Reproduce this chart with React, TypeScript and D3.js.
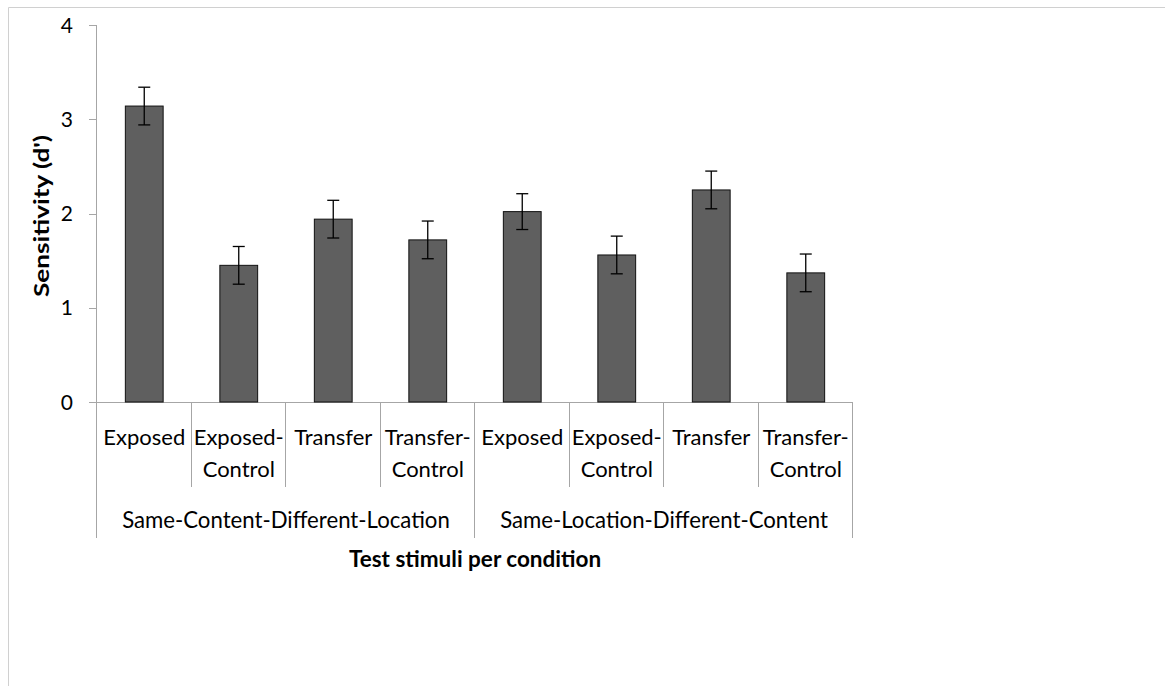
import React from "react";
import * as d3 from "d3";

const categories = ["Exposed", "Exposed-Control", "Transfer", "Transfer-Control", "Exposed", "Exposed-Control", "Transfer", "Transfer-Control"];
const labelLines = [["Exposed"], ["Exposed-", "Control"], ["Transfer"], ["Transfer-", "Control"], ["Exposed"], ["Exposed-", "Control"], ["Transfer"], ["Transfer-", "Control"]];
const groups = ["Same-Content-Different-Location", "Same-Location-Different-Content"];
const values = [3.14, 1.45, 1.94, 1.72, 2.02, 1.56, 2.25, 1.37];
const errors = [0.2, 0.2, 0.2, 0.2, 0.19, 0.2, 0.2, 0.2];
const yTicks = [0, 1, 2, 3, 4];
const yTitle = "Sensitivity (d')";
const xTitle = "Test stimuli per condition";

const W = 1165;
const H = 686;
const FONT = "Lato, 'Liberation Sans', sans-serif";

export default function App() {
  const x0 = 97;
  const x1 = 853;
  const yBase = 402;
  const yTop = 25;
  const idx = categories.map((_, i) => String(i));
  const cell = d3.scaleBand<string>().domain(idx).range([x0, x1]).padding(0);
  const bar = d3.scaleBand<string>().domain(idx).range([x0, x1]).paddingInner(0.6).paddingOuter(0.3);
  const y = d3.scaleLinear().domain([0, 4]).range([yBase, yTop]);
  const axisColor = "#a6a6a6";
  const groupSize = categories.length / groups.length;

  return (
    <svg width={W} height={H} style={{ position: "absolute", left: 0, top: 0, background: "#fff" }}>
      {/* frame */}
      <line x1={8.5} y1={7.5} x2={W} y2={7.5} stroke="#d0d0d0" strokeWidth={1} />
      <line x1={8.5} y1={7.5} x2={8.5} y2={H} stroke="#d0d0d0" strokeWidth={1} />

      {/* y axis */}
      <line x1={x0 - 0.5} y1={y(4)} x2={x0 - 0.5} y2={yBase} stroke={axisColor} />
      {yTicks.map((t) => (
        <g key={t}>
          <line x1={89} x2={x0} y1={Math.round(y(t)) + 0.5} y2={Math.round(y(t)) + 0.5} stroke={axisColor} />
          <text x={73} y={y(t)} dy="0.36em" textAnchor="end" fontFamily={FONT} fontSize={21} fill="#000">
            {t}
          </text>
        </g>
      ))}

      {/* x axis baseline */}
      <line x1={89} x2={x1} y1={yBase + 0.5} y2={yBase + 0.5} stroke={axisColor} />

      {/* category separators */}
      {idx.map((d, i) => {
        const xs = cell(d)!;
        const isGroupEdge = i % groupSize === 0;
        return (
          <line key={"s" + i} x1={Math.round(xs) - 0.5} x2={Math.round(xs) - 0.5} y1={yBase} y2={isGroupEdge ? 538 : 487} stroke={axisColor} />
        );
      })}
      <line x1={x1 - 0.5} x2={x1 - 0.5} y1={yBase} y2={538} stroke={axisColor} />

      {/* bars */}
      {values.map((v, i) => (
        <rect
          key={"b" + i}
          x={bar(String(i))!}
          y={y(v)}
          width={bar.bandwidth()}
          height={yBase - y(v)}
          fill="#5f5f5f"
          stroke="#111"
          strokeWidth={1}
        />
      ))}

      {/* error bars */}
      {values.map((v, i) => {
        const cx = bar(String(i))! + bar.bandwidth() / 2;
        const hi = y(v + errors[i]);
        const lo = y(v - errors[i]);
        return (
          <g key={"e" + i} stroke="#000" strokeWidth={1.3}>
            <line x1={cx} x2={cx} y1={hi} y2={lo} />
            <line x1={cx - 6} x2={cx + 6} y1={hi} y2={hi} />
            <line x1={cx - 6} x2={cx + 6} y1={lo} y2={lo} />
          </g>
        );
      })}

      {/* category labels */}
      {labelLines.map((lines, i) => {
        const cx = cell(String(i))! + cell.bandwidth() / 2;
        return (
          <text key={"c" + i} x={cx} textAnchor="middle" fontFamily={FONT} fontSize={22} fill="#000">
            {lines.map((ln, j) => (
              <tspan key={j} x={cx} y={445 + j * 32}>
                {ln}
              </tspan>
            ))}
          </text>
        );
      })}

      {/* group labels */}
      {groups.map((g, gi) => {
        const start = cell(String(gi * groupSize))!;
        const end = cell(String(gi * groupSize + groupSize - 1))! + cell.bandwidth();
        return (
          <text key={"g" + gi} x={(start + end) / 2} y={528} textAnchor="middle" fontFamily={FONT} fontSize={22.2} fill="#000">
            {g}
          </text>
        );
      })}

      {/* axis titles */}
      <text
        transform={`translate(49, 216) rotate(-90)`}
        textAnchor="middle"
        fontFamily={FONT}
        fontWeight="bold"
        fontSize={21}
        textLength={162}
        lengthAdjust="spacingAndGlyphs"
        fill="#000"
      >
        {yTitle}
      </text>
      <text x={(x0 + x1) / 2} y={567} textAnchor="middle" fontFamily={FONT} fontWeight="bold" fontSize={22.5} fill="#000">
        {xTitle}
      </text>
    </svg>
  );
}
